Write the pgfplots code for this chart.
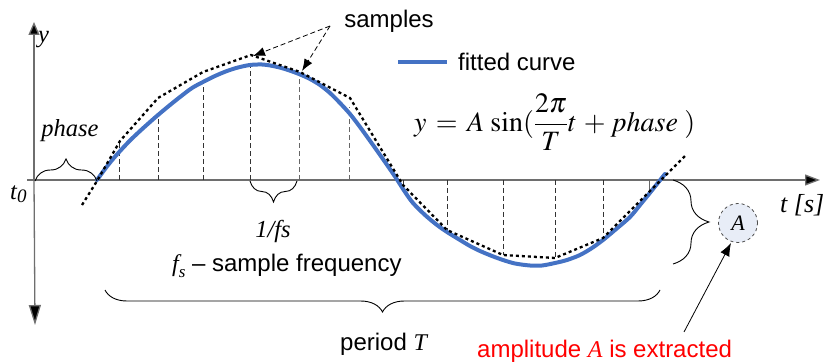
\documentclass[border=0pt]{standalone}
\usepackage{mathptmx}
\usepackage[no-math]{fontspec}
\setmainfont{Liberation Sans}
\newfontfamily\tnr{Liberation Serif}
\usepackage{pgfplots}
\pgfplotsset{compat=1.18}
\usetikzlibrary{arrows.meta,decorations.pathreplacing}
\definecolor{fitblue}{RGB}{68,114,196}
\definecolor{axgray}{RGB}{110,110,110}
\definecolor{circfill}{RGB}{232,237,247}
\newcommand\sz{\fontsize{24}{28}\selectfont}
\newcommand\szs{\fontsize{24.5}{28}\selectfont\tnr\itshape}
\begin{document}
\begin{tikzpicture}
\useasboundingbox (0,0) rectangle (827pt,363pt);
\begin{axis}[width=827pt,height=363pt,scale only axis,
  xmin=0,xmax=827,ymin=0,ymax=363,y dir=reverse,hide axis,clip=false]
% axes
\draw[axgray,line width=1.3pt,-{Triangle[length=15pt,width=11pt,fill=black]}] (axis cs:27,180) -- (axis cs:820,180);
\draw[axgray,line width=1.3pt,-{Triangle[length=13pt,width=11pt,fill=black]}] (axis cs:34,180) -- (axis cs:34,22);
\draw[axgray,line width=1.3pt,-{Triangle[length=20pt,width=12pt,fill=black]}] (axis cs:34,180) -- (axis cs:35,325);
% sample verticals
\addplot[black!80,line width=0.9pt,dash pattern=on 5pt off 3pt] coordinates {(119,180) (119,142)};
\addplot[black!80,line width=0.9pt,dash pattern=on 5pt off 3pt] coordinates {(158,180) (158,117)};
\addplot[black!80,line width=0.9pt,dash pattern=on 5pt off 3pt] coordinates {(203,180) (203,80)};
\addplot[black!80,line width=0.9pt,dash pattern=on 5pt off 3pt] coordinates {(250,180) (250,62)};
\addplot[black!60,line width=0.9pt,dash pattern=on 5pt off 3pt] coordinates {(299,180) (299,76)};
\addplot[black!60,line width=0.9pt,dash pattern=on 5pt off 3pt] coordinates {(349,180) (349,107)};
\addplot[black!80,line width=0.9pt] coordinates {(403,180) (403,185)};
\addplot[black!80,line width=0.9pt,dash pattern=on 5pt off 3pt] coordinates {(447,180) (447,230)};
\addplot[black!80,line width=0.9pt,dash pattern=on 5pt off 3pt] coordinates {(503,180) (503,255)};
\addplot[black!80,line width=0.9pt,dash pattern=on 5pt off 3pt] coordinates {(555,180) (555,258)};
\addplot[black!80,line width=0.9pt,dash pattern=on 5pt off 3pt] coordinates {(603,180) (603,240)};
\addplot[black!60,line width=0.9pt] coordinates {(649,180) (649,190)};
% fitted curve
\addplot[fitblue,line width=4pt,line cap=round,smooth] coordinates {
(97,180) (105,169) (113,159) (121,150) (130,140.5) (140,131) (150,122) (158,115)
(170,105) (180,97) (192,88) (203,82) (215,76) (227,71) (238,67.5) (250,65)
(262,64.5) (273,66) (285,69) (299,74) (310,79) (320,85) (330,93) (340,103)
(350,114) (360,127) (373,145) (385,162) (396,178)
(405,192) (413,203) (425,215) (437,225) (447,232) (460,240) (470,246) (480,251)
(492,256) (503,260) (515,263.5) (530,265.5) (542,265.5) (555,263) (567,260)
(580,255) (592,248) (603,240) (615,230) (630,217) (640,205) (649,194) (657,184) (665,174)};
% samples (dotted)
\addplot[black,line width=2.3pt,dash pattern=on 3pt off 3pt] coordinates {
(82,205) (97,181) (120,141) (158,98) (203,72) (251,55) (300,72) (350,98)
(403,185) (447,230) (503,255) (555,258) (603,238) (649,192) (686,155)};
% legend
\draw[fitblue,line width=4pt] (axis cs:398,62) -- (axis cs:447,62);
\node[anchor=base west,inner sep=0,font=\sz] at (axis cs:458,71) {fitted curve};
% samples label + arrows
\node[anchor=base,inner sep=0,font=\sz] at (axis cs:389,28) {samples};
\draw[black,line width=0.8pt,dash pattern=on 5pt off 3pt,-{Latex[length=12pt,width=9pt]}] (axis cs:330,26) -- (axis cs:253,56);
\draw[black,line width=0.8pt,dash pattern=on 5pt off 3pt,-{Latex[length=12pt,width=9pt]}] (axis cs:330,26) -- (axis cs:302,71);
% formula
\node[anchor=west,inner sep=0,font=\fontsize{28}{32}\selectfont] at (axis cs:414,122) {$y\,=\,A\,\sin(\displaystyle\frac{2\pi}{T}t\,+\,\mathit{phase}\;)$};
% axis labels
\node[anchor=base west,inner sep=0,font=\szs] at (axis cs:38,43) {y};
\node[anchor=base west,inner sep=0,font=\szs] at (axis cs:10,200) {t\raisebox{-0.12em}{\fontsize{19}{20}\selectfont 0}};
\node[anchor=base west,inner sep=0,font=\fontsize{26}{30}\selectfont\tnr\itshape] at (axis cs:780,213) {t [s]};
% phase
\node[anchor=base,inner sep=0,font=\szs] at (axis cs:70,137) {phase};
\draw[black,line width=0.9pt,decorate,decoration={brace,amplitude=22pt}] (axis cs:35,181) -- (axis cs:97,181);
% 1/fs
\draw[black,line width=0.9pt,decorate,decoration={brace,amplitude=21pt}] (axis cs:297,181) -- (axis cs:250,181);
\node[anchor=base,inner sep=0,font=\szs] at (axis cs:273,238) {1/fs};
\node[anchor=base west,inner sep=0,font=\sz] at (axis cs:172,272) {{\tnr\itshape f}\raisebox{-0.25em}{\fontsize{17}{18}\selectfont\tnr\itshape s} -- sample frequency};
% period
\draw[black,line width=0.9pt,decorate,decoration={brace,amplitude=22pt}] (axis cs:660,290) -- (axis cs:105,290);
\node[anchor=base west,inner sep=0,font=\sz] at (axis cs:340,350) {period {\tnr\itshape T}};
% amplitude
\draw[black,line width=0.9pt,decorate,decoration={brace,amplitude=36pt}] (axis cs:673,180) -- (axis cs:673,264);
\node[circle,draw=black!70,dashed,line width=0.8pt,fill=circfill,minimum size=39pt,inner sep=0,font=\fontsize{22}{24}\selectfont\tnr\itshape] (cA) at (axis cs:738,223) {A};
\draw[black,line width=0.8pt,-{Latex[length=13pt,width=10pt]}] (axis cs:684,332) -- (axis cs:731,243);
\node[anchor=base west,inner sep=0,font=\sz,text=red] at (axis cs:477,357) {amplitude {\tnr\itshape A} is extracted};
\end{axis}
\end{tikzpicture}
\end{document}
